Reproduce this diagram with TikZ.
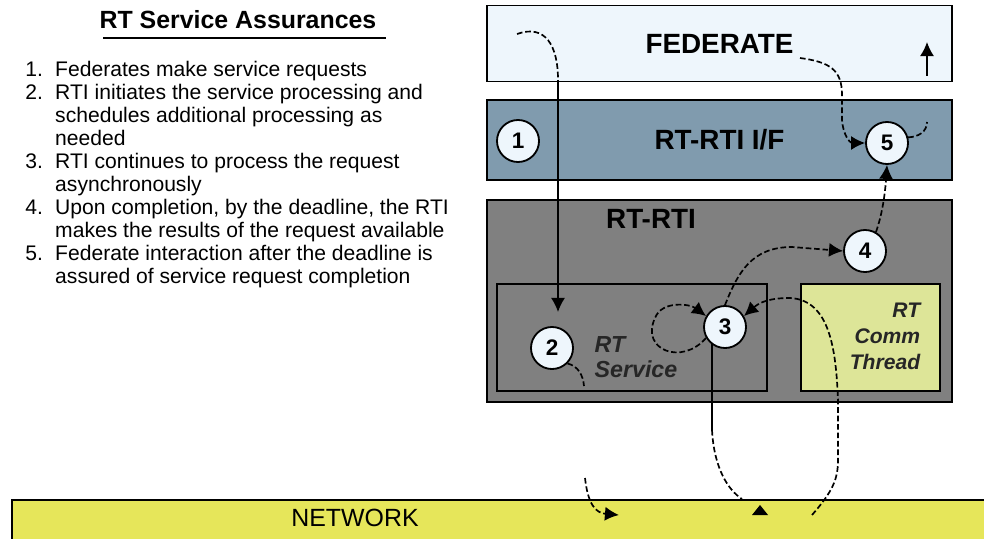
\documentclass[tikz,border=0pt]{standalone}
\usepackage{fontspec}
\setmainfont{Liberation Sans}
\usetikzlibrary{shapes,arrows.meta}
\usetikzlibrary{positioning,calc}

\definecolor{fedblue}{RGB}{238,246,252}
\definecolor{ifblue}{RGB}{128,155,174}
\definecolor{rtigray}{RGB}{128,128,128}
\definecolor{commgreen}{RGB}{221,229,152}
\definecolor{netyellow}{RGB}{230,230,90}

\begin{document}
\begin{tikzpicture}[x=0.025cm, y=-0.025cm, >={Latex[length=10pt,width=10pt]}]

%local definitions
\tikzstyle{Layer} = [draw, line width=1.4pt, rectangle, inner sep=0pt, font=\fontsize{19.8}{22}\selectfont\bfseries]
\tikzstyle{Inner} = [draw, line width=1.4pt, rectangle, inner sep=0pt]
\tikzstyle{Step} = [draw, line width=1.3pt, circle, fill=fedblue, minimum size=1.05cm, inner sep=0pt, font=\fontsize{16}{16}\selectfont\bfseries]
\tikzstyle{Label} = [inner sep=0pt, font=\fontsize{19.8}{22}\selectfont\bfseries]
\tikzstyle{ItLabel} = [inner sep=0pt, text=black!85]
\tikzstyle{flow} = [line width=1.2pt, dash pattern=on 4pt off 2pt]
\tikzstyle{solidflow} = [line width=1.2pt]

\useasboundingbox (0,0) rectangle (984,538);

%notes
	\node [inner sep=0pt, font=\fontsize{17.7}{20}\selectfont\bfseries] (Title) at (238,20) {RT Service Assurances};
	\draw [line width=1.4pt] ($(Title.south west)+(4,9)$) -- ($(Title.south east)+(9,9)$);
	\node [inner sep=0pt, anchor=north west, font=\fontsize{15}{16.4}\selectfont] (Notes) at (25,60) {%
	\begin{tabular}{@{}p{21.3pt}@{}l@{}}
	1. & Federates make service requests\\
	2. & RTI initiates the service processing and\\
	   & schedules additional processing as\\
	   & needed\\
	3. & RTI continues to process the request\\
	   & asynchronously\\
	4. & Upon completion, by the deadline, the RTI\\
	   & makes the results of the request available\\
	5. & Federate interaction after the deadline is\\
	   & assured of service request completion
	\end{tabular}};

%layers
	\node [Layer, fill=fedblue, minimum width=11.6cm, minimum height=1.9cm] (Federate) at (719.5,43.5) {FEDERATE};
	\node [Layer, fill=ifblue, minimum width=11.6cm, minimum height=2cm] (RtiIF) at (719.5,140) {RT-RTI I/F};
	\node [Layer, fill=rtigray, minimum width=11.6cm, minimum height=5.05cm] (RtRti) at (719.5,301) {};
	\node [Label] (RtRtiName) at (651,219) {RT-RTI};
	\node [Inner, fill=rtigray, minimum width=6.75cm, minimum height=2.675cm] (RtService) at (632,337.5) {};
	\node [Inner, fill=commgreen, minimum width=3.475cm, minimum height=2.675cm] (CommThread) at (870.5,337.5) {};
	\node [ItLabel, align=left, font=\fontsize{16.5}{17.7}\selectfont\bfseries\itshape] (RtServiceName) at (636,357) {RT\\Service};
	\node [ItLabel, align=right, font=\fontsize{15}{18.4}\selectfont\bfseries\itshape] (CommThreadName) at (885,336) {RT\\Comm\\Thread};
	\node [Layer, fill=netyellow, minimum width=24.5cm, minimum height=1.25cm] (Network) at (502,525) {};
	\node [inner sep=0pt, font=\fontsize{17.7}{20}\selectfont] (NetworkName) at (355,518) {NETWORK};

%steps
	\node [Step] (StepOne) at (518,141) {1};
	\node [Step] (StepTwo) at (552,348) {2};
	\node [Step] (StepThree) at (725,327) {3};
	\node [Step] (StepFour) at (865,251) {4};
	\node [Step] (StepFive) at (887,143) {5};

%free ends
	\coordinate (ReqStart) at (517,34);
	\coordinate (ReqBend) at (558,80);
	\coordinate (TwoTail) at (584,386);
	\coordinate (ThreeDown) at (712,430);
	\coordinate (NetIn) at (812,515);
	\coordinate (NetOut) at (742,499);
	\coordinate (NetSend) at (585,478);
	\coordinate (NetArrive) at (619,515);
	\coordinate (FedOut) at (800,58);
	\coordinate (FedUpFrom) at (927,122);
	\coordinate (FedUpStart) at (927,76);
	\coordinate (FedUpEnd) at (927,42);

%connections
	\draw [flow] (ReqStart) .. controls (545,24) and (558,45) .. (ReqBend);
	\draw [solidflow,->] (ReqBend) -- ([yshift=10pt]StepTwo.north -| ReqBend);
	\draw [flow] (StepTwo.south east) .. controls (578,366) and (583,375) .. (TwoTail);

	\draw [flow,->] (StepThree.210) .. controls (682,366) and (640,350) .. (655,318) .. controls (662,300) and (690,304) .. (StepThree.150);
	\draw [flow,->] (StepThree.north) .. controls (738,272) and (752,247) .. (792,247) -- (StepFour.west);
	\draw [flow,->] (NetIn) .. controls (832,492) and (838,480) .. (838,460) -- (838,400) .. controls (836,350) and (830,300) .. (790,298) .. controls (770,298) and (760,302) .. (StepThree.30);
	\draw [solidflow] ([yshift=4pt]ThreeDown |- StepThree.south) -- (ThreeDown);
	\draw [flow] (ThreeDown) .. controls (714,468) and (728,490) .. (NetOut);
	\draw [flow,->] (NetSend) .. controls (588,505) and (596,513) .. (NetArrive);
	\fill (752,515) -- (768,515) -- (760,505) -- cycle;

	\draw [flow,->] (StepFour.60) .. controls (882,215) and (885,195) .. (StepFive.south);
	\draw [flow,->] (FedOut) .. controls (830,62) and (842,70) .. (842,95) -- (842,120) .. controls (843,135) and (850,143) .. (StepFive.west);
	\draw [flow] (StepFive.15) .. controls (918,137) and (927,132) .. (FedUpFrom);
	\draw [solidflow,->] (FedUpStart) -- (FedUpEnd);

\end{tikzpicture}
\end{document}
